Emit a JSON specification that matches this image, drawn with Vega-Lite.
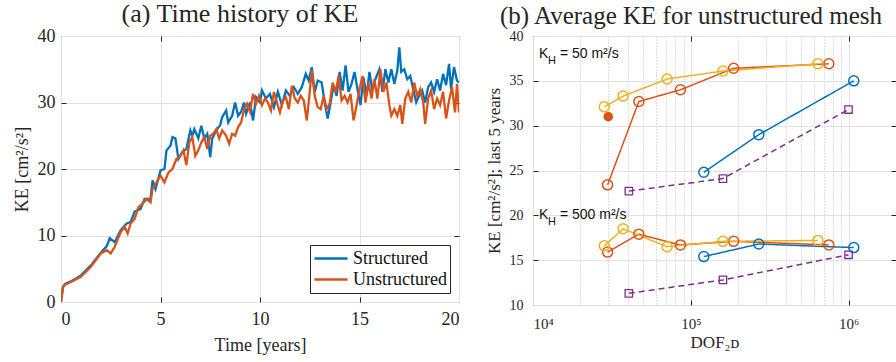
{
  "$schema": "https://vega.github.io/schema/vega-lite/v6.json",
  "padding": {"left": 12, "top": 0, "right": 0, "bottom": 0},
  "background": "white",
  "spacing": 21,
  "resolve": {"scale": {"color": "independent", "strokeDash": "independent", "x": "independent", "y": "independent"}},
  "config": {
    "font": "Liberation Serif",
    "view": {"stroke": "#262626", "strokeWidth": 1},
    "title": {"font": "Liberation Serif", "fontSize": 25, "fontWeight": "normal", "color": "#262626", "frame": "group"},
    "axis": {
      "domain": false, "labelFont": "Liberation Serif", "titleFont": "Liberation Serif",
      "labelColor": "#262626", "titleColor": "#262626", "titleFontWeight": "normal",
      "gridColor": "#e2e2e2", "gridWidth": 1, "ticks": false, "tickColor": "#262626", "tickWidth": 1
    }
  },
  "datasets": {
    "ts": [
      {"s":"Structured","t":0,"ke":0},{"s":"Structured","t":0.1,"ke":2.3},{"s":"Structured","t":0.2,"ke":2.7},{"s":"Structured","t":0.5,"ke":3.1},{"s":"Structured","t":1.0,"ke":4.0},{"s":"Structured","t":1.5,"ke":5.5},{"s":"Structured","t":2.0,"ke":7.4},{"s":"Structured","t":2.3,"ke":8.4},{"s":"Structured","t":2.45,"ke":9.6},{"s":"Structured","t":2.7,"ke":9.0},{"s":"Structured","t":3.0,"ke":10.8},{"s":"Structured","t":3.3,"ke":11.8},{"s":"Structured","t":3.5,"ke":12.0},{"s":"Structured","t":3.7,"ke":13.6},{"s":"Structured","t":4.0,"ke":14.0},{"s":"Structured","t":4.2,"ke":15.5},{"s":"Structured","t":4.5,"ke":15.5},{"s":"Structured","t":4.6,"ke":18.3},{"s":"Structured","t":4.75,"ke":17.0},{"s":"Structured","t":5.0,"ke":19.8},{"s":"Structured","t":5.2,"ke":20.0},{"s":"Structured","t":5.3,"ke":22.8},{"s":"Structured","t":5.5,"ke":23.5},{"s":"Structured","t":5.6,"ke":24.8},{"s":"Structured","t":5.75,"ke":24.6},{"s":"Structured","t":5.9,"ke":21.5},{"s":"Structured","t":6.1,"ke":22.6},{"s":"Structured","t":6.3,"ke":23.0},{"s":"Structured","t":6.5,"ke":25.8},{"s":"Structured","t":6.6,"ke":25.0},{"s":"Structured","t":6.7,"ke":26.0},{"s":"Structured","t":6.9,"ke":24.6},{"s":"Structured","t":7.05,"ke":26.5},{"s":"Structured","t":7.2,"ke":24.6},{"s":"Structured","t":7.35,"ke":25.3},{"s":"Structured","t":7.5,"ke":21.8},{"s":"Structured","t":7.6,"ke":24.6},{"s":"Structured","t":7.8,"ke":25.8},{"s":"Structured","t":8.0,"ke":26.6},{"s":"Structured","t":8.1,"ke":27.8},{"s":"Structured","t":8.3,"ke":28.8},{"s":"Structured","t":8.4,"ke":27.0},{"s":"Structured","t":8.6,"ke":28.0},{"s":"Structured","t":8.75,"ke":30.0},{"s":"Structured","t":8.9,"ke":28.0},{"s":"Structured","t":9.05,"ke":28.6},{"s":"Structured","t":9.2,"ke":30.0},{"s":"Structured","t":9.3,"ke":28.3},{"s":"Structured","t":9.5,"ke":30.0},{"s":"Structured","t":9.65,"ke":27.3},{"s":"Structured","t":9.8,"ke":30.8},{"s":"Structured","t":10.0,"ke":30.0},{"s":"Structured","t":10.1,"ke":31.8},{"s":"Structured","t":10.3,"ke":30.6},{"s":"Structured","t":10.5,"ke":31.3},{"s":"Structured","t":10.7,"ke":29.3},{"s":"Structured","t":10.9,"ke":31.6},{"s":"Structured","t":11.1,"ke":29.6},{"s":"Structured","t":11.3,"ke":31.8},{"s":"Structured","t":11.5,"ke":31.0},{"s":"Structured","t":11.7,"ke":32.3},{"s":"Structured","t":11.9,"ke":31.3},{"s":"Structured","t":12.1,"ke":32.3},{"s":"Structured","t":12.3,"ke":34.3},{"s":"Structured","t":12.45,"ke":33.3},{"s":"Structured","t":12.6,"ke":35.3},{"s":"Structured","t":12.75,"ke":31.6},{"s":"Structured","t":12.9,"ke":33.3},{"s":"Structured","t":13.1,"ke":33.0},{"s":"Structured","t":13.25,"ke":30.0},{"s":"Structured","t":13.4,"ke":27.6},{"s":"Structured","t":13.55,"ke":30.0},{"s":"Structured","t":13.7,"ke":32.6},{"s":"Structured","t":13.85,"ke":31.0},{"s":"Structured","t":14.0,"ke":34.6},{"s":"Structured","t":14.15,"ke":31.8},{"s":"Structured","t":14.3,"ke":35.6},{"s":"Structured","t":14.45,"ke":31.6},{"s":"Structured","t":14.6,"ke":32.8},{"s":"Structured","t":14.75,"ke":34.6},{"s":"Structured","t":14.9,"ke":32.0},{"s":"Structured","t":15.05,"ke":29.6},{"s":"Structured","t":15.2,"ke":33.8},{"s":"Structured","t":15.35,"ke":31.0},{"s":"Structured","t":15.5,"ke":34.6},{"s":"Structured","t":15.65,"ke":31.8},{"s":"Structured","t":15.8,"ke":33.5},{"s":"Structured","t":16.0,"ke":35.0},{"s":"Structured","t":16.15,"ke":31.6},{"s":"Structured","t":16.3,"ke":35.0},{"s":"Structured","t":16.45,"ke":33.0},{"s":"Structured","t":16.6,"ke":35.0},{"s":"Structured","t":16.75,"ke":32.8},{"s":"Structured","t":16.9,"ke":34.8},{"s":"Structured","t":17.0,"ke":38.3},{"s":"Structured","t":17.1,"ke":34.6},{"s":"Structured","t":17.25,"ke":35.0},{"s":"Structured","t":17.4,"ke":33.5},{"s":"Structured","t":17.55,"ke":34.0},{"s":"Structured","t":17.7,"ke":32.0},{"s":"Structured","t":17.85,"ke":30.0},{"s":"Structured","t":18.0,"ke":31.0},{"s":"Structured","t":18.15,"ke":31.8},{"s":"Structured","t":18.3,"ke":30.0},{"s":"Structured","t":18.45,"ke":32.3},{"s":"Structured","t":18.6,"ke":33.0},{"s":"Structured","t":18.75,"ke":31.6},{"s":"Structured","t":18.9,"ke":33.5},{"s":"Structured","t":19.05,"ke":31.8},{"s":"Structured","t":19.2,"ke":34.3},{"s":"Structured","t":19.35,"ke":32.6},{"s":"Structured","t":19.5,"ke":35.8},{"s":"Structured","t":19.6,"ke":32.0},{"s":"Structured","t":19.75,"ke":35.3},{"s":"Structured","t":19.9,"ke":33.3},{"s":"Structured","t":20.0,"ke":33.0},
      {"s":"Unstructured","t":0,"ke":0},{"s":"Unstructured","t":0.1,"ke":2.2},{"s":"Unstructured","t":0.2,"ke":2.6},{"s":"Unstructured","t":0.5,"ke":3.0},{"s":"Unstructured","t":1.0,"ke":3.8},{"s":"Unstructured","t":1.5,"ke":5.3},{"s":"Unstructured","t":2.0,"ke":7.3},{"s":"Unstructured","t":2.3,"ke":7.8},{"s":"Unstructured","t":2.5,"ke":7.3},{"s":"Unstructured","t":2.7,"ke":8.3},{"s":"Unstructured","t":3.0,"ke":10.5},{"s":"Unstructured","t":3.2,"ke":11.3},{"s":"Unstructured","t":3.35,"ke":10.3},{"s":"Unstructured","t":3.5,"ke":11.8},{"s":"Unstructured","t":3.7,"ke":12.5},{"s":"Unstructured","t":3.9,"ke":14.3},{"s":"Unstructured","t":4.1,"ke":14.8},{"s":"Unstructured","t":4.3,"ke":15.5},{"s":"Unstructured","t":4.5,"ke":15.0},{"s":"Unstructured","t":4.6,"ke":17.0},{"s":"Unstructured","t":4.8,"ke":18.0},{"s":"Unstructured","t":5.0,"ke":19.0},{"s":"Unstructured","t":5.2,"ke":18.0},{"s":"Unstructured","t":5.4,"ke":19.5},{"s":"Unstructured","t":5.6,"ke":20.0},{"s":"Unstructured","t":5.8,"ke":21.5},{"s":"Unstructured","t":6.0,"ke":22.0},{"s":"Unstructured","t":6.15,"ke":22.8},{"s":"Unstructured","t":6.3,"ke":20.6},{"s":"Unstructured","t":6.45,"ke":24.0},{"s":"Unstructured","t":6.6,"ke":24.8},{"s":"Unstructured","t":6.75,"ke":22.0},{"s":"Unstructured","t":6.9,"ke":22.8},{"s":"Unstructured","t":7.05,"ke":24.0},{"s":"Unstructured","t":7.2,"ke":24.8},{"s":"Unstructured","t":7.35,"ke":23.0},{"s":"Unstructured","t":7.5,"ke":25.0},{"s":"Unstructured","t":7.65,"ke":25.3},{"s":"Unstructured","t":7.8,"ke":26.0},{"s":"Unstructured","t":7.95,"ke":24.6},{"s":"Unstructured","t":8.1,"ke":25.8},{"s":"Unstructured","t":8.3,"ke":25.0},{"s":"Unstructured","t":8.45,"ke":23.8},{"s":"Unstructured","t":8.6,"ke":25.3},{"s":"Unstructured","t":8.75,"ke":25.0},{"s":"Unstructured","t":8.9,"ke":26.3},{"s":"Unstructured","t":9.05,"ke":27.0},{"s":"Unstructured","t":9.2,"ke":29.0},{"s":"Unstructured","t":9.35,"ke":29.8},{"s":"Unstructured","t":9.5,"ke":28.6},{"s":"Unstructured","t":9.65,"ke":31.3},{"s":"Unstructured","t":9.8,"ke":29.8},{"s":"Unstructured","t":9.95,"ke":31.0},{"s":"Unstructured","t":10.1,"ke":29.6},{"s":"Unstructured","t":10.25,"ke":30.6},{"s":"Unstructured","t":10.4,"ke":30.0},{"s":"Unstructured","t":10.55,"ke":28.8},{"s":"Unstructured","t":10.7,"ke":31.6},{"s":"Unstructured","t":10.85,"ke":30.0},{"s":"Unstructured","t":11.0,"ke":28.5},{"s":"Unstructured","t":11.15,"ke":30.3},{"s":"Unstructured","t":11.3,"ke":30.8},{"s":"Unstructured","t":11.45,"ke":29.0},{"s":"Unstructured","t":11.6,"ke":32.5},{"s":"Unstructured","t":11.75,"ke":30.6},{"s":"Unstructured","t":11.9,"ke":30.0},{"s":"Unstructured","t":12.05,"ke":31.0},{"s":"Unstructured","t":12.2,"ke":30.3},{"s":"Unstructured","t":12.35,"ke":27.3},{"s":"Unstructured","t":12.5,"ke":31.6},{"s":"Unstructured","t":12.6,"ke":34.8},{"s":"Unstructured","t":12.75,"ke":31.0},{"s":"Unstructured","t":12.9,"ke":29.3},{"s":"Unstructured","t":13.05,"ke":29.0},{"s":"Unstructured","t":13.2,"ke":31.0},{"s":"Unstructured","t":13.35,"ke":29.0},{"s":"Unstructured","t":13.5,"ke":29.8},{"s":"Unstructured","t":13.65,"ke":33.0},{"s":"Unstructured","t":13.8,"ke":31.6},{"s":"Unstructured","t":13.95,"ke":34.0},{"s":"Unstructured","t":14.1,"ke":30.3},{"s":"Unstructured","t":14.25,"ke":31.0},{"s":"Unstructured","t":14.4,"ke":30.0},{"s":"Unstructured","t":14.55,"ke":31.3},{"s":"Unstructured","t":14.7,"ke":27.3},{"s":"Unstructured","t":14.85,"ke":29.5},{"s":"Unstructured","t":15.0,"ke":32.0},{"s":"Unstructured","t":15.15,"ke":34.0},{"s":"Unstructured","t":15.3,"ke":30.0},{"s":"Unstructured","t":15.45,"ke":33.0},{"s":"Unstructured","t":15.6,"ke":30.6},{"s":"Unstructured","t":15.75,"ke":33.5},{"s":"Unstructured","t":15.9,"ke":30.6},{"s":"Unstructured","t":16.05,"ke":35.0},{"s":"Unstructured","t":16.2,"ke":31.6},{"s":"Unstructured","t":16.35,"ke":33.0},{"s":"Unstructured","t":16.5,"ke":29.6},{"s":"Unstructured","t":16.6,"ke":28.0},{"s":"Unstructured","t":16.75,"ke":29.0},{"s":"Unstructured","t":16.9,"ke":28.0},{"s":"Unstructured","t":17.05,"ke":29.6},{"s":"Unstructured","t":17.15,"ke":26.8},{"s":"Unstructured","t":17.3,"ke":30.6},{"s":"Unstructured","t":17.45,"ke":31.6},{"s":"Unstructured","t":17.6,"ke":30.0},{"s":"Unstructured","t":17.75,"ke":33.0},{"s":"Unstructured","t":17.9,"ke":31.0},{"s":"Unstructured","t":18.05,"ke":32.0},{"s":"Unstructured","t":18.2,"ke":30.0},{"s":"Unstructured","t":18.3,"ke":26.8},{"s":"Unstructured","t":18.45,"ke":30.6},{"s":"Unstructured","t":18.6,"ke":31.8},{"s":"Unstructured","t":18.75,"ke":29.0},{"s":"Unstructured","t":18.9,"ke":30.6},{"s":"Unstructured","t":19.05,"ke":29.6},{"s":"Unstructured","t":19.2,"ke":31.6},{"s":"Unstructured","t":19.35,"ke":27.6},{"s":"Unstructured","t":19.5,"ke":30.3},{"s":"Unstructured","t":19.65,"ke":32.3},{"s":"Unstructured","t":19.8,"ke":28.5},{"s":"Unstructured","t":19.9,"ke":32.8},{"s":"Unstructured","t":20.0,"ke":28.5}
    ],
    "kh": [
      {"series":"A","grp":"50","dof":121000,"ke":24.8},{"series":"A","grp":"50","dof":270000,"ke":29.0},{"series":"A","grp":"50","dof":1080000,"ke":35.0},
      {"series":"A","grp":"500","dof":121000,"ke":15.4},{"series":"A","grp":"500","dof":270000,"ke":16.8},{"series":"A","grp":"500","dof":1080000,"ke":16.4},
      {"series":"B","grp":"50","dof":29700,"ke":23.4},{"series":"B","grp":"50","dof":46900,"ke":32.7},{"series":"B","grp":"50","dof":86000,"ke":34.0},{"series":"B","grp":"50","dof":187000,"ke":36.4},{"series":"B","grp":"50","dof":750000,"ke":36.9},
      {"series":"B","grp":"500","dof":29700,"ke":15.9},{"series":"B","grp":"500","dof":46900,"ke":17.9},{"series":"B","grp":"500","dof":86000,"ke":16.7},{"series":"B","grp":"500","dof":187000,"ke":17.1},{"series":"B","grp":"500","dof":750000,"ke":16.7},
      {"series":"C","grp":"50","dof":28300,"ke":32.1},{"series":"C","grp":"50","dof":37300,"ke":33.3},{"series":"C","grp":"50","dof":70800,"ke":35.2},{"series":"C","grp":"50","dof":160000,"ke":36.1},{"series":"C","grp":"50","dof":640000,"ke":36.9},
      {"series":"C","grp":"500","dof":28300,"ke":16.6},{"series":"C","grp":"500","dof":37300,"ke":18.5},{"series":"C","grp":"500","dof":70800,"ke":16.5},{"series":"C","grp":"500","dof":160000,"ke":17.1},{"series":"C","grp":"500","dof":640000,"ke":17.2},
      {"series":"D","grp":"50","dof":40500,"ke":22.7},{"series":"D","grp":"50","dof":160000,"ke":24.1},{"series":"D","grp":"50","dof":1000000,"ke":31.8},
      {"series":"D","grp":"500","dof":40500,"ke":11.3},{"series":"D","grp":"500","dof":160000,"ke":12.8},{"series":"D","grp":"500","dof":1000000,"ke":15.6},
      {"series":"B","grp":"solo","dof":30000,"ke":31.0}
    ],
    "ann": [
      {"dof":10900,"ke":37.6,"rest":"= 50 m²/s"},
      {"dof":10900,"ke":19.6,"rest":"= 500 m²/s"}
    ]
  },
  "hconcat": [
    {
      "width": 398, "height": 266,
      "title": {"text": "(a) Time history of KE", "dx": -20, "offset": 0, "fontSize": 26},
      "data": {"name": "ts"},
      "resolve": {"axis": {"x": "independent", "y": "independent"}},
      "layer": [
        {
          "mark": {"type": "line", "strokeWidth": 2.3, "clip": true},
          "encoding": {
            "x": {"field": "t", "type": "quantitative", "scale": {"domain": [0, 20], "nice": false},
                  "axis": {"orient": "bottom", "values": [0, 5, 10, 15, 20], "title": "Time [years]", "labelFontSize": 18, "titleFontSize": 18, "labelPadding": 8, "titlePadding": 8}},
            "y": {"field": "ke", "type": "quantitative", "scale": {"domain": [0, 40], "nice": false},
                  "axis": {"orient": "left", "values": [0, 10, 20, 30, 40], "title": "KE [cm²/s²]", "labelFontSize": 18, "titleFontSize": 18, "labelPadding": 6, "titlePadding": 6}},
            "color": {"field": "s", "type": "nominal",
                      "scale": {"domain": ["Structured", "Unstructured"], "range": ["#0072BD", "#D95319"]},
                      "legend": {"title": null, "orient": "bottom-right", "offset": 9, "strokeColor": "#262626", "fillColor": "white",
                                 "padding": 3, "labelFont": "Liberation Serif", "labelFontSize": 18, "labelColor": "#111111",
                                 "symbolType": "stroke", "symbolSize": 1100, "symbolStrokeWidth": 2.5, "rowPadding": 0, "clipHeight": 21, "labelOffset": 4}}
          }
        },
        {
          "mark": {"type": "point", "opacity": 0},
          "encoding": {
            "x": {"field": "t", "type": "quantitative",
                  "axis": {"orient": "bottom", "offset": -5, "values": [5, 10, 15], "labels": false, "grid": false, "ticks": true, "tickSize": 5, "title": null, "minExtent": 0, "maxExtent": 0}},
            "y": {"field": "ke", "type": "quantitative",
                  "axis": {"orient": "left", "offset": -5, "values": [10, 20, 30], "labels": false, "grid": false, "ticks": true, "tickSize": 5, "title": null, "minExtent": 0, "maxExtent": 0}}
          }
        },
        {
          "mark": {"type": "point", "opacity": 0},
          "encoding": {
            "x": {"field": "t", "type": "quantitative",
                  "axis": {"orient": "top", "offset": -5, "values": [5, 10, 15], "labels": false, "grid": false, "ticks": true, "tickSize": 5, "title": null, "minExtent": 0, "maxExtent": 0}},
            "y": {"field": "ke", "type": "quantitative",
                  "axis": {"orient": "right", "offset": -5, "values": [10, 20, 30], "labels": false, "grid": false, "ticks": true, "tickSize": 5, "title": null, "minExtent": 0, "maxExtent": 0}}
          }
        }
      ]
    },
    {
      "width": 363, "height": 269,
      "title": {"text": "(b) Average KE for unstructured mesh", "anchor": "end", "dx": -14, "offset": 0},
      "resolve": {"axis": {"x": "independent", "y": "independent"}},
      "layer": [
        {
          "data": {"name": "kh"},
          "transform": [{"filter": "datum.grp != 'solo'"}],
          "mark": {"type": "line", "strokeWidth": 1.5, "clip": true},
          "encoding": {
            "x": {"field": "dof", "type": "quantitative",
                  "scale": {"type": "log", "domain": [10000, 2000000], "nice": false},
                  "axis": {"orient": "bottom", "values": [10000,20000,30000,40000,50000,60000,70000,80000,90000,100000,200000,300000,400000,500000,600000,700000,800000,900000,1000000,2000000],
                           "labelExpr": "datum.value == 10000 ? '10⁴' : datum.value == 100000 ? '10⁵' : datum.value == 1000000 ? '10⁶' : ''",
                           "labelOverlap": false, "labelFontSize": 15, "labelPadding": 11,
                           "gridDash": {"condition": {"test": "datum.value == 10000 || datum.value == 100000 || datum.value == 1000000", "value": []}, "value": [1, 2]},
                           "gridColor": {"condition": {"test": "datum.value == 10000 || datum.value == 100000 || datum.value == 1000000", "value": "#e2e2e2"}, "value": "#bdbdbd"},
                           "title": "DOF₂ᴅ", "titleFontSize": 17, "titlePadding": 3}},
            "y": {"field": "ke", "type": "quantitative", "scale": {"domain": [10, 40], "nice": false},
                  "axis": {"orient": "left", "values": [10, 15, 20, 25, 30, 35, 40], "title": "KE [cm²/s²]; last 5 years", "labelFontSize": 14, "titleFontSize": 17, "labelPadding": 10, "titlePadding": 6}},
            "color": {"field": "series", "type": "nominal", "scale": {"domain": ["A", "B", "C", "D"], "range": ["#0072BD", "#D95319", "#EDB120", "#7E2F8E"]}, "legend": null},
            "strokeDash": {"field": "series", "type": "nominal", "scale": {"domain": ["A", "B", "C", "D"], "range": [[1, 0], [1, 0], [1, 0], [6, 4]]}, "legend": null},
            "detail": {"field": "grp"}
          }
        },
        {
          "data": {"name": "kh"},
          "transform": [{"filter": "datum.grp != 'solo' && datum.series != 'D'"}],
          "mark": {"type": "point", "shape": "circle", "filled": false, "size": 100, "strokeWidth": 1.5, "opacity": 1},
          "encoding": {
            "x": {"field": "dof", "type": "quantitative", "axis": {"orient": "bottom", "offset": -5, "values": [100000, 1000000], "labels": false, "grid": false, "ticks": true, "tickSize": 5, "title": null, "minExtent": 0, "maxExtent": 0}},
            "y": {"field": "ke", "type": "quantitative", "axis": {"orient": "left", "offset": -5, "values": [15, 20, 25, 30, 35], "labels": false, "grid": false, "ticks": true, "tickSize": 5, "title": null, "minExtent": 0, "maxExtent": 0}},
            "color": {"field": "series", "type": "nominal", "legend": null}
          }
        },
        {
          "data": {"name": "kh"},
          "transform": [{"filter": "datum.series == 'D'"}],
          "mark": {"type": "point", "shape": "square", "filled": false, "size": 55, "strokeWidth": 1.3, "opacity": 1},
          "encoding": {
            "x": {"field": "dof", "type": "quantitative", "axis": {"orient": "top", "offset": -5, "values": [100000, 1000000], "labels": false, "grid": false, "ticks": true, "tickSize": 5, "title": null, "minExtent": 0, "maxExtent": 0}},
            "y": {"field": "ke", "type": "quantitative", "axis": {"orient": "right", "offset": -5, "values": [15, 20, 25, 30, 35], "labels": false, "grid": false, "ticks": true, "tickSize": 5, "title": null, "minExtent": 0, "maxExtent": 0}},
            "color": {"field": "series", "type": "nominal", "legend": null}
          }
        },
        {
          "data": {"name": "kh"},
          "transform": [{"filter": "datum.grp == 'solo'"}],
          "mark": {"type": "point", "shape": "circle", "filled": true, "size": 90, "opacity": 1},
          "encoding": {
            "x": {"field": "dof", "type": "quantitative", "axis": null},
            "y": {"field": "ke", "type": "quantitative", "axis": null},
            "color": {"field": "series", "type": "nominal", "legend": null}
          }
        },
        {
          "data": {"name": "ann"},
          "mark": {"type": "text", "text": "K", "font": "Liberation Sans", "fontSize": 14, "align": "left", "baseline": "alphabetic", "color": "#111111"},
          "encoding": {"x": {"field": "dof", "type": "quantitative", "axis": null}, "y": {"field": "ke", "type": "quantitative", "axis": null}}
        },
        {
          "data": {"name": "ann"},
          "mark": {"type": "text", "text": "H", "font": "Liberation Sans", "fontSize": 11, "align": "left", "baseline": "alphabetic", "dx": 9, "dy": 6, "color": "#111111"},
          "encoding": {"x": {"field": "dof", "type": "quantitative", "axis": null}, "y": {"field": "ke", "type": "quantitative", "axis": null}}
        },
        {
          "data": {"name": "ann"},
          "mark": {"type": "text", "font": "Liberation Sans", "fontSize": 14, "align": "left", "baseline": "alphabetic", "dx": 21, "color": "#111111"},
          "encoding": {"x": {"field": "dof", "type": "quantitative", "axis": null}, "y": {"field": "ke", "type": "quantitative", "axis": null}, "text": {"field": "rest"}}
        }
      ]
    }
  ]
}
